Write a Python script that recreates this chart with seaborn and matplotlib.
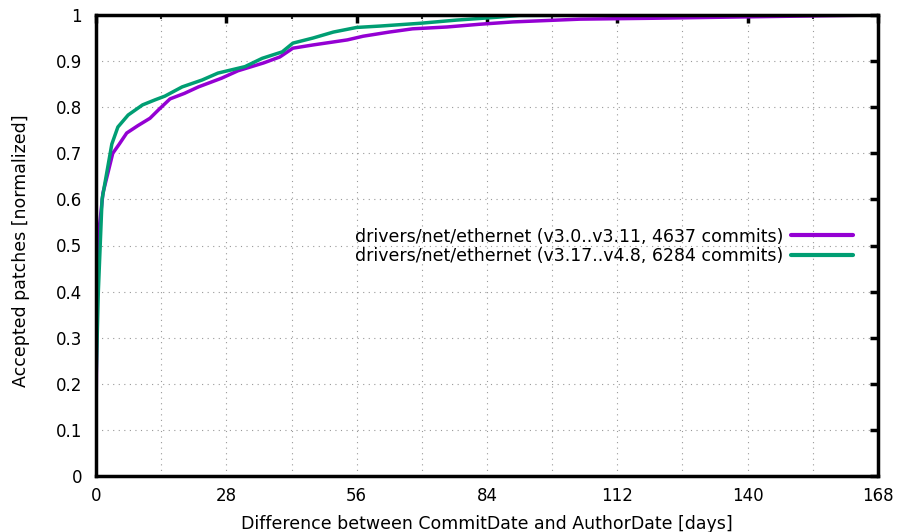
import numpy as np
import pandas as pd
import matplotlib
matplotlib.use("Agg")
import matplotlib.pyplot as plt
import seaborn as sns
from matplotlib.ticker import MultipleLocator

label_a = "drivers/net/ethernet (v3.0..v3.11, 4637 commits)"
label_b = "drivers/net/ethernet (v3.17..v4.8, 6284 commits)"

days_a = [0, 0.3, 1.5, 3.6, 5.0, 6.6, 9.0, 11.6, 13.5, 15.9, 19.0, 22, 27, 30.5, 36, 39.5, 42.3, 46.6, 54, 57.4, 63, 68, 75.4, 82.5, 89.6, 104, 120, 140, 168]
frac_a = [0.1, 0.5, 0.614, 0.70, 0.72, 0.744, 0.76, 0.776, 0.795, 0.818, 0.83, 0.844, 0.863, 0.879, 0.896, 0.909, 0.928, 0.935, 0.946, 0.954, 0.963, 0.97, 0.974, 0.98, 0.985, 0.991, 0.993, 0.996, 1.0]

days_b = [0, 0.5, 1.3, 3.4, 4.7, 6.9, 10, 12.7, 14.8, 18.5, 22.8, 26.2, 32, 35.7, 40, 42.3, 46.6, 51, 56, 61, 69.6, 77.5, 86, 91, 120, 168]
frac_b = [0.2, 0.40, 0.6, 0.72, 0.757, 0.783, 0.805, 0.816, 0.824, 0.844, 0.859, 0.874, 0.888, 0.906, 0.92, 0.939, 0.95, 0.963, 0.973, 0.976, 0.982, 0.989, 0.995, 0.999, 1.0, 1.0]

df = pd.DataFrame({
    "days": days_a + days_b,
    "frac": frac_a + frac_b,
    "series": [label_a] * len(days_a) + [label_b] * len(days_b),
})

sns.set_style("white")
plt.rcParams["font.family"] = ["DejaVu Sans"]
plt.rcParams["text.color"] = "black"
plt.rcParams["axes.labelcolor"] = "black"

fig = plt.figure(figsize=(8.98, 5.32), dpi=100)
ax = fig.add_axes([96 / 898, 56 / 532, 782 / 898, 461 / 532])

sns.lineplot(data=df, x="days", y="frac", hue="series",
             palette={label_a: "#9400D3", label_b: "#009E73"},
             linewidth=2.5, ax=ax, sort=False, estimator=None)

ax.set_xlim(0, 168)
ax.set_ylim(0, 1)
ax.xaxis.set_major_locator(MultipleLocator(28))
ax.xaxis.set_minor_locator(MultipleLocator(14))
ax.set_yticks(np.arange(0, 1.01, 0.1))
ax.set_yticklabels(["0"] + [f"{v:.1f}" for v in np.arange(0.1, 0.95, 0.1)] + ["1"])

ax.grid(True, which="both", axis="x", color="#999999", linestyle=(0, (1, 4)), linewidth=0.8)
ax.grid(True, which="major", axis="y", color="#999999", linestyle=(0, (1, 4)), linewidth=0.8)
ax.set_axisbelow(True)

for s in ax.spines.values():
    s.set_visible(True)
    s.set_color("black")
    s.set_linewidth(2.5)

ax.tick_params(which="major", direction="in", length=6, width=2.5, top=True, right=True,
               labelsize=12, colors="black")
ax.tick_params(axis="x", which="major", pad=8)
ax.tick_params(axis="y", which="major", pad=10)
ax.tick_params(which="minor", direction="in", length=3, width=1.5, top=True, right=True)

ax.set_xlabel("Difference between CommitDate and AuthorDate [days]", fontsize=12.5, labelpad=7, color="black")
ax.set_ylabel("Accepted patches [normalized]", fontsize=12.5, color="black")
ax.yaxis.set_label_coords(-0.085, 0.488)

leg = ax.legend(loc="upper right", bbox_to_anchor=((853 - 96) / 782, 0.539), frameon=False,
                markerfirst=False, fontsize=12.5, handlelength=3.6, labelspacing=0.1,
                handletextpad=0.4, borderaxespad=0, borderpad=0)
for t in leg.get_texts():
    t.set_color("black")
for line in leg.get_lines():
    line.set_linewidth(3)

fig.savefig("out.png", dpi=100, facecolor="white")
